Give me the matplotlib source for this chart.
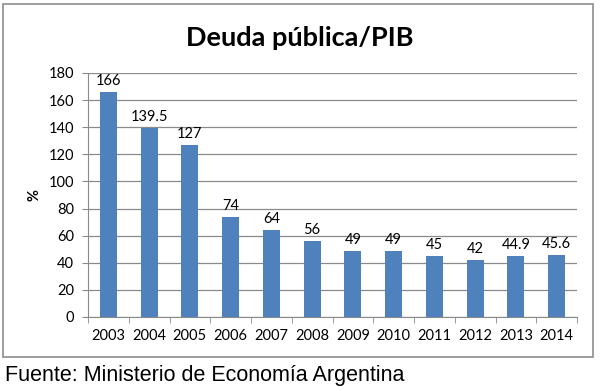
import matplotlib
matplotlib.use("Agg")
import matplotlib.pyplot as plt
from matplotlib.patches import Rectangle

years = ["2003", "2004", "2005", "2006", "2007", "2008", "2009", "2010", "2011", "2012", "2013", "2014"]
deuda = [166, 139.5, 127, 74, 64, 56, 49, 49, 45, 42, 44.9, 45.6]
etiquetas = ["166", "139.5", "127", "74", "64", "56", "49", "49", "45", "42", "44.9", "45.6"]

plt.rcParams['font.family'] = ['Lato', 'DejaVu Sans']

fig = plt.figure(figsize=(6.0, 3.91), dpi=100)
# chart frame
fig.patches.append(Rectangle((3/600, 1 - 357/391), 590/600, 353/391, transform=fig.transFigure,
                             fill=False, edgecolor='#8c8c8c', linewidth=1.2))

ax = fig.add_axes([88/600, 1 - 317/391, 489/600, 244/391])
x = list(range(len(years)))
ax.bar(x, deuda, width=0.42, color='#4F81BD', zorder=3)
for xi, v, t in zip(x, deuda, etiquetas):
    ax.text(xi, v + 3, t, ha='center', va='bottom', fontsize=10.5, color='black', zorder=4)

ax.set_xlim(-0.5, len(years) - 0.5)
ax.set_ylim(0, 180)
ax.set_yticks(range(0, 181, 20))
ax.yaxis.grid(True, color='#8a8a8a', linewidth=0.9, zorder=0)
ax.set_xticks(x)
ax.set_xticklabels(years, fontsize=10.5)
ax.set_xticks([i - 0.5 for i in range(len(years) + 1)], minor=True)
ax.tick_params(axis='x', which='major', length=0, pad=9)
ax.tick_params(axis='x', which='minor', length=4, color='#8a8a8a')
ax.tick_params(axis='y', labelsize=10.5, length=4, color='#8a8a8a', pad=6)
for s in ['top', 'right']:
    ax.spines[s].set_visible(False)
for s in ['left', 'bottom']:
    ax.spines[s].set_color('#8a8a8a')
ax.set_ylabel('%', fontsize=10.5, fontweight='bold')
ax.yaxis.set_label_coords(-0.095, 0.5)

fig.text(0.5, 1 - 38/391, 'Deuda pública/PIB', ha='center', va='center', fontsize=19.5, fontweight='bold')
fig.text(5/600, 1 - 375/391, 'Fuente: Ministerio de Economía Argentina', ha='left', va='center',
         fontsize=15.5, family=['Liberation Sans', 'DejaVu Sans'])

fig.savefig('out.png', dpi=100)
